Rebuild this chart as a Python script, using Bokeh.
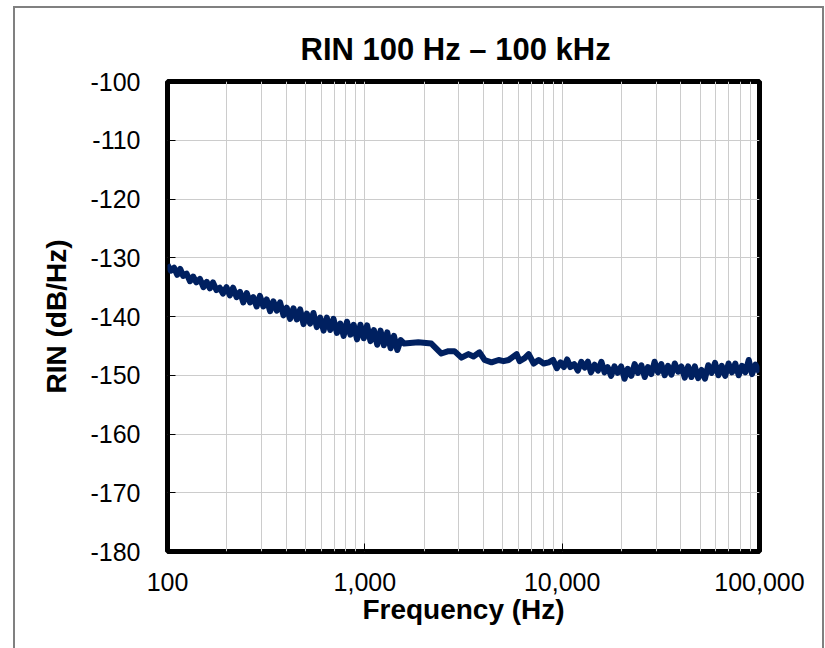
from bokeh.plotting import figure
from bokeh.models import FixedTicker, NumeralTickFormatter, Range1d
from bokeh.embed import file_html
from bokeh.resources import INLINE

title_text = "RIN 100 Hz – 100 kHz"
x_label = "Frequency (Hz)"
y_label = "RIN (dB/Hz)"
x_major_ticks = [100, 1000, 10000, 100000]
x_minor_ticks = [200, 300, 400, 500, 600, 700, 800, 900,
                 2000, 3000, 4000, 5000, 6000, 7000, 8000, 9000,
                 20000, 30000, 40000, 50000, 60000, 70000, 80000, 90000]
y_ticks = [-180, -170, -160, -150, -140, -130, -120, -110, -100]

# 100 Hz - 1.5 kHz (noisy band)
freq_low = [100, 104, 108, 112, 116, 120, 125, 130, 135, 140,
            146, 152, 158, 164, 170, 177, 184, 191, 199, 207,
            215, 224, 233, 242, 252, 262, 272, 283, 294, 306,
            318, 331, 344, 358, 372, 387, 402, 418, 435, 452,
            470, 489, 508, 528, 549, 571, 594, 618, 642, 668,
            694, 722, 751, 781, 812, 845, 878, 913, 950, 988,
            1027, 1068, 1111, 1155, 1201, 1249, 1299, 1351, 1405, 1461, 1520]
rin_low = [-131.2, -132.2, -131.7, -132.9, -131.9, -133.1, -132.7, -134.0, -133.2, -134.2,
           -133.6, -135.0, -134.1, -135.2, -134.2, -135.5, -135.1, -136.1, -135.0, -136.4,
           -135.1, -136.7, -135.8, -137.6, -136.0, -137.6, -136.7, -138.3, -136.5, -138.3,
           -137.1, -139.1, -137.4, -139.0, -137.6, -139.8, -138.5, -140.4, -138.6, -140.5,
           -138.8, -141.3, -139.5, -141.2, -139.4, -141.8, -140.2, -142.4, -140.2, -142.3,
           -140.4, -142.8, -141.2, -143.3, -140.9, -143.1, -141.4, -143.9, -141.4, -143.7,
           -141.5, -144.2, -142.3, -144.8, -142.4, -144.9, -142.7, -145.4, -143.3, -145.7, -144.0]

# 1.5 kHz - 9 kHz (smoother section)
freq_mid = [1584, 1866, 2173, 2443, 2652, 2844, 3088, 3350, 3553, 3812,
            4042, 4386, 4762, 5049, 5352, 5877, 6087, 6456, 6766, 7172,
            7603, 8062, 8551]
rin_mid = [-144.6, -144.4, -144.6, -146.3, -145.9, -145.9, -147.0, -146.4, -146.8, -146.1,
           -147.4, -147.8, -147.4, -147.6, -147.4, -146.4, -147.6, -147.1, -146.4, -148.0,
           -147.4, -148.0, -147.8]

# 9 kHz - 100 kHz (noisy band)
freq_high = [9000, 9400, 9800, 10200, 10600, 11000, 11500, 12000, 12500, 13000,
             13500, 14000, 14600, 15200, 15800, 16400, 17000, 17700, 18400, 19100,
             19900, 20700, 21500, 22400, 23300, 24200, 25200, 26200, 27200, 28300,
             29400, 30600, 31800, 33100, 34400, 35800, 37200, 38700, 40200, 41800,
             43500, 45200, 47000, 48900, 50900, 52900, 55000, 57200, 59500, 61900,
             64400, 67000, 69700, 72500, 75400, 78400, 81500, 84800, 88200, 91700,
             95400, 100000]
rin_high = [-147.4, -148.8, -147.8, -148.6, -147.3, -148.6, -148.1, -149.2, -147.7, -148.7,
            -147.7, -149.5, -148.2, -149.2, -147.7, -149.5, -148.6, -150.1, -148.5, -149.6,
            -148.5, -150.6, -148.9, -150.1, -148.1, -149.6, -148.3, -150.3, -148.6, -149.8,
            -147.7, -149.5, -148.1, -150.0, -148.4, -149.9, -148.0, -149.4, -148.5, -150.4,
            -148.5, -150.3, -148.5, -150.5, -149.1, -150.6, -148.3, -149.6, -147.9, -150.0,
            -148.4, -150.1, -148.0, -149.5, -148.0, -150.0, -148.4, -149.5, -147.4, -149.8,
            -148.2, -149.5]

freq = freq_low + freq_mid + freq_high
rin = rin_low + rin_mid + rin_high

FONT = "Liberation Sans"

p = figure(width=807, height=640, x_axis_type="log",
           x_range=Range1d(100, 100000), y_range=Range1d(-180, -100),
           output_backend="svg", toolbar_location=None,
           min_border_left=152, min_border_right=67, min_border_top=73, min_border_bottom=99,
           margin=(6, 0, 0, 13),
           styles={"box-sizing": "content-box",
                   "border-left": "2px solid #808080", "border-top": "2px solid #808080",
                   "border-right": "2px solid #808080"})

p.background_fill_color = "white"
p.border_fill_color = "white"
p.outline_line_color = "black"
p.outline_line_width = 5

p.title.text = title_text
p.title.align = "left"
p.title.offset = 133
p.title.standoff = 29
p.title.text_font = FONT
p.title.text_font_size = "31px"
p.title.text_font_style = "bold"
p.title.text_color = "black"

p.line(freq, rin, line_color="#002060", line_width=6, line_join="round")

p.xaxis.ticker = FixedTicker(ticks=x_major_ticks, minor_ticks=x_minor_ticks)
p.yaxis.ticker = FixedTicker(ticks=y_ticks)
p.xaxis.formatter = NumeralTickFormatter(format="0,0")
p.yaxis.formatter = NumeralTickFormatter(format="0")

for ax in (p.xaxis, p.yaxis):
    ax.axis_line_color = None
    ax.major_tick_in = 8
    ax.major_tick_out = 0
    ax.major_tick_line_color = "black"
    ax.minor_tick_line_color = None
    ax.major_label_text_font = FONT
    ax.major_label_text_font_size = "25px"
    ax.major_label_text_color = "black"
    ax.axis_label_text_font = FONT
    ax.axis_label_text_font_size = "28px"
    ax.axis_label_text_font_style = "bold"
    ax.axis_label_text_color = "black"

p.xaxis.axis_label = x_label
p.yaxis.axis_label = y_label
p.xaxis.major_label_standoff = 17
p.xaxis.axis_label_standoff = 0
p.yaxis.major_label_standoff = 27
p.yaxis.axis_label_standoff = 15

p.xgrid.grid_line_color = "#cccccc"
p.xgrid.minor_grid_line_color = "#cccccc"
p.ygrid.grid_line_color = "#cccccc"

open("out.html", "w").write(file_html(p, INLINE))
